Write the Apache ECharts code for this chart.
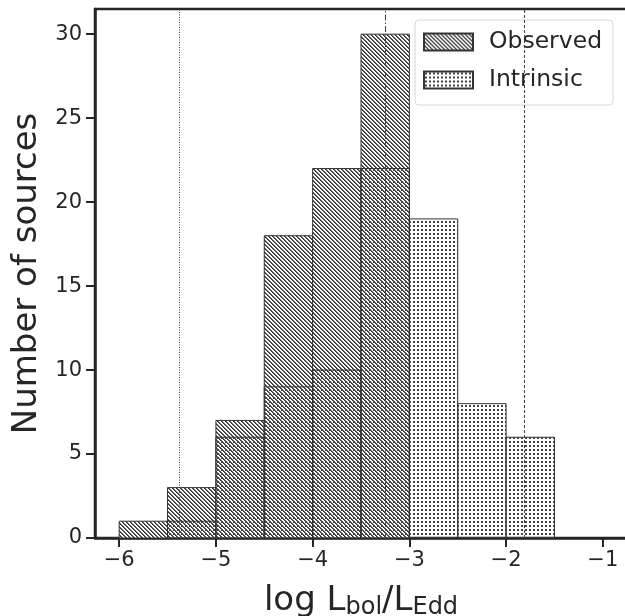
<!DOCTYPE html>
<html>
<head>
<meta charset="utf-8">
<script src="https://cdn.jsdelivr.net/npm/echarts@6/dist/echarts.min.js"></script>
<style>html,body{margin:0;padding:0;background:#fff;}#c{width:625px;height:616px;}</style>
</head>
<body>
<div id="c"></div>
<script>
// Data
var binEdges = [-6, -5.5, -5, -4.5, -4, -3.5, -3, -2.5, -2, -1.5];
var observedCounts = [1, 3, 7, 18, 22, 30, 0, 0, 0];
var intrinsicCounts = [0, 1, 6, 9, 10, 22, 19, 8, 6];
var xTicks = [-6, -5, -4, -3, -2, -1];
var yTicks = [0, 5, 10, 15, 20, 25, 30];
var refLines = [
  {x: -5.38, style: 'dotted'},
  {x: -3.25, style: 'dashdot'},
  {x: -1.81, style: 'dashed'}
];
var seriesNames = ['Observed', 'Intrinsic'];

function makeHatch() {
  var c = document.createElement('canvas');
  c.width = 8; c.height = 8;
  var ctx = c.getContext('2d');
  ctx.fillStyle = '#fff';
  ctx.fillRect(0, 0, 8, 8);
  for (var x = 0; x < 8; x++) for (var y = 0; y < 8; y++) {
    var m = ((x - y) % 4 + 4) % 4;
    if (m === 0) { ctx.fillStyle = '#333'; ctx.fillRect(x, y, 1, 1); }
    else if (m === 1) { ctx.fillStyle = '#666'; ctx.fillRect(x, y, 1, 1); }
  }
  return c;
}
function makeDots() {
  var c = document.createElement('canvas');
  c.width = 4; c.height = 4;
  var ctx = c.getContext('2d');
  ctx.fillStyle = '#444';
  ctx.fillRect(1, 1, 2, 2);
  return c;
}
var hatchPat = {image: makeHatch(), repeat: 'repeat'};
var dotPat = {image: makeDots(), repeat: 'repeat'};

function histData(counts) {
  var d = [];
  for (var i = 0; i < counts.length; i++) {
    if (counts[i] > 0) d.push([binEdges[i], binEdges[i + 1], counts[i]]);
  }
  return d;
}
function renderer(pat) {
  return function (params, api) {
    var p0 = api.coord([api.value(0), api.value(2)]);
    var p1 = api.coord([api.value(1), 0]);
    return {
      type: 'rect',
      shape: {x: p0[0], y: p0[1], width: p1[0] - p0[0], height: p1[1] - p0[1]},
      style: {fill: pat, stroke: '#333', lineWidth: 1}
    };
  };
}

var dashTypes = {dotted: [1, 1.5], dashed: [3, 2], dashdot: [6, 2, 1.5, 2]};
var markData = refLines.map(function (r) {
  return {xAxis: r.x, lineStyle: {type: dashTypes[r.style], color: '#444', width: 1}};
});

var textColor = '#262626';
var chart = echarts.init(document.getElementById('c'));
chart.setOption({
  animation: false,
  backgroundColor: '#fff',
  grid: {left: 95, top: 9, width: 532, height: 529, outerBoundsMode: 'none', containLabel: false,
    show: true, borderColor: '#262626', borderWidth: 2.5, backgroundColor: 'transparent'},
  legend: {
    data: seriesNames.map(function (n) { return {name: n, icon: 'rect'}; }),
    orient: 'vertical',
    left: 415, top: 20,
    itemWidth: 49, itemHeight: 17, itemGap: 14,
    padding: [10, 11, 13, 8],
    borderColor: '#d8d8d8', borderWidth: 1, borderRadius: 4,
    textStyle: {fontFamily: 'DejaVu Sans', fontSize: 23.5, lineHeight: 20, color: textColor, padding: [0, 0, 0, 11]}
  },
  xAxis: {
    type: 'value', min: -6.25, max: -0.75, interval: 0.25,
    axisLine: {show: true, onZero: false, lineStyle: {color: '#262626', width: 2.5}},
    axisTick: {show: true, length: 9, lineStyle: {color: '#262626', width: 2},
      customValues: xTicks},
    axisLabel: {fontFamily: 'DejaVu Sans', fontSize: 21, color: textColor, margin: 12,
      customValues: xTicks,
      formatter: function (v) { return (v < 0 ? '\u2212' : '') + Math.abs(v); }},
    splitLine: {show: false},
    name: 'log L{s|bol}/L{s|Edd}',
    nameLocation: 'middle', nameGap: 44,
    nameTextStyle: {fontFamily: 'DejaVu Sans', fontSize: 34, color: textColor,
      rich: {s: {fontFamily: 'DejaVu Sans', fontSize: 24, color: textColor, verticalAlign: 'bottom', padding: [14, 0, 0, 0]}}}
  },
  yAxis: {
    type: 'value', min: 0, max: 31.5, interval: 0.5,
    axisLine: {show: true, lineStyle: {color: '#262626', width: 2.5}},
    axisTick: {show: true, length: 9, lineStyle: {color: '#262626', width: 2}, customValues: yTicks},
    axisLabel: {fontFamily: 'DejaVu Sans', fontSize: 21, color: textColor, margin: 13, customValues: yTicks},
    splitLine: {show: false},
    name: 'Number of sources', nameLocation: 'middle', nameGap: 47,
    nameTextStyle: {fontFamily: 'DejaVu Sans', fontSize: 34, color: textColor}
  },
  series: [
    {name: seriesNames[0], type: 'custom', data: histData(observedCounts), renderItem: renderer(hatchPat),
      itemStyle: {color: hatchPat, borderColor: '#333', borderWidth: 1}, z: 2},
    {name: seriesNames[1], type: 'custom', data: histData(intrinsicCounts), renderItem: renderer(dotPat),
      itemStyle: {color: dotPat, borderColor: '#333', borderWidth: 1}, z: 3,
      markLine: {silent: true, symbol: ['none', 'none'], label: {show: false}, data: markData, z: 5}}
  ]
});
</script>
</body>
</html>
